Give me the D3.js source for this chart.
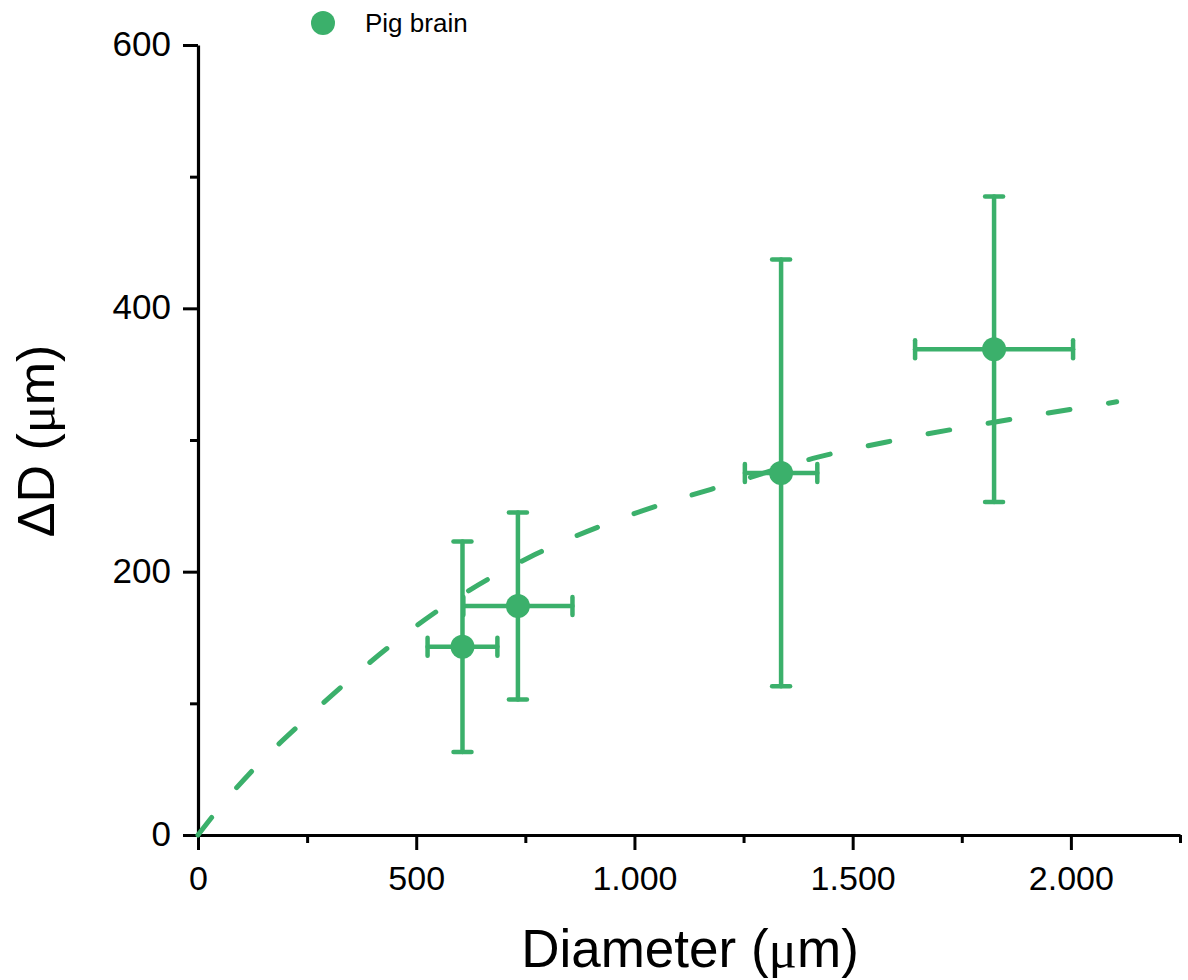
<!DOCTYPE html>
<html>
<head>
<meta charset="utf-8">
<script src="https://cdn.jsdelivr.net/npm/d3@7"></script>
<style>
  body { margin: 0; background: #fff; }
  svg { display: block; font-family: "Liberation Sans", Arial, sans-serif; }
</style>
</head>
<body>
<div id="chart"></div>
<script>
  // measured points (diameter, deltaD) with x and y errors
  const diameter = [606, 733, 1336, 1824];
  const deltaD   = [143, 174, 275, 369];
  const xErr     = [80, 125, 83, 181];
  const yErr     = [80, 71, 162, 116];

  // fitted curve
  const fitX = [0, 50, 142, 240, 337, 438, 539, 772, 837, 982, 1250, 1409, 1600, 1868, 2105];
  const fitY = [0, 21, 55, 86, 115, 143, 168, 213, 223, 242, 270, 286, 300, 316, 329];

  const xTicks = [0, 500, 1000, 1500, 2000];
  const xMinor = [250, 750, 1250, 1750, 2250];
  const yTicks = [0, 200, 400, 600];
  const yMinor = [100, 300, 500];

  const green = "#3bb06b";
  const W = 1188, H = 980;

  const svg = d3.select("#chart").append("svg")
    .attr("width", W)
    .attr("height", H);

  const x = d3.scaleLinear().domain([0, 2250]).range([198, 1180]);
  const y = d3.scaleLinear().domain([0, 600]).range([835, 45]);

  const fmt = d => d3.format(",")(d).replace(/,/g, ".");

  // axes
  const xAxis = svg.append("g").attr("transform", "translate(0,835)")
    .call(d3.axisBottom(x).tickValues(xTicks).tickFormat(fmt).tickSize(15).tickSizeOuter(0));
  svg.append("g").attr("transform", "translate(0,835)")
    .call(d3.axisBottom(x).tickValues(xMinor).tickFormat("").tickSize(8).tickSizeOuter(0))
    .select(".domain").remove();
  const yAxis = svg.append("g").attr("transform", "translate(198,0)")
    .call(d3.axisLeft(y).tickValues(yTicks).tickSize(15).tickSizeOuter(0));
  svg.append("g").attr("transform", "translate(198,0)")
    .call(d3.axisLeft(y).tickValues(yMinor).tickFormat("").tickSize(8).tickSizeOuter(0))
    .select(".domain").remove();

  svg.selectAll(".domain").attr("stroke", "#000").attr("stroke-width", 3.2);
  svg.selectAll(".tick line").attr("stroke", "#000").attr("stroke-width", 3);
  xAxis.selectAll(".tick text")
    .attr("font-size", 34).attr("fill", "#000").attr("dy", 0).attr("y", 55);
  yAxis.selectAll(".tick text")
    .attr("font-size", 35).attr("fill", "#000").attr("x", -27).attr("dy", "0.3em");

  // axis titles
  const xt = svg.append("text")
    .attr("x", 690).attr("y", 967)
    .attr("text-anchor", "middle")
    .attr("font-size", 53);
  xt.append("tspan").text("Diameter (");
  xt.append("tspan").attr("font-family", "Liberation Serif, serif").text("\u03bc");
  xt.append("tspan").text("m)");

  const yt = svg.append("text")
    .attr("transform", "translate(54,441) rotate(-90)")
    .attr("text-anchor", "middle")
    .attr("font-size", 52);
  yt.append("tspan").text("\u0394D (");
  yt.append("tspan").attr("font-family", "Liberation Serif, serif").text("\u03bc");
  yt.append("tspan").text("m)");

  // fit curve
  const fitPts = fitX.map((d, i) => [d, fitY[i]]);
  svg.append("path")
    .datum(fitPts)
    .attr("fill", "none")
    .attr("stroke", green)
    .attr("stroke-width", 5)
    .attr("stroke-linecap", "round")
    .attr("stroke-dasharray", "22,39")
    .attr("d", d3.line().x(d => x(d[0])).y(d => y(d[1])).curve(d3.curveMonotoneX));

  const pts = diameter.map((d, i) => ({x: d, y: deltaD[i], ex: xErr[i], ey: yErr[i]}));
  const cap = 9;

  const bars = svg.append("g")
    .attr("stroke", green)
    .attr("stroke-width", 4.5)
    .attr("stroke-linecap", "round");

  pts.forEach(p => {
    const cx = x(p.x), cy = y(p.y);
    const top = y(p.y + p.ey), bot = y(p.y - p.ey);
    const lft = x(p.x - p.ex), rgt = x(p.x + p.ex);
    bars.append("line").attr("x1", cx).attr("x2", cx).attr("y1", top).attr("y2", bot);
    bars.append("line").attr("x1", cx - cap).attr("x2", cx + cap).attr("y1", top).attr("y2", top);
    bars.append("line").attr("x1", cx - cap).attr("x2", cx + cap).attr("y1", bot).attr("y2", bot);
    bars.append("line").attr("x1", lft).attr("x2", rgt).attr("y1", cy).attr("y2", cy);
    bars.append("line").attr("x1", lft).attr("x2", lft).attr("y1", cy - cap).attr("y2", cy + cap);
    bars.append("line").attr("x1", rgt).attr("x2", rgt).attr("y1", cy - cap).attr("y2", cy + cap);
  });

  svg.append("g").selectAll("circle")
    .data(pts)
    .enter().append("circle")
    .attr("cx", d => x(d.x))
    .attr("cy", d => y(d.y))
    .attr("r", 12)
    .attr("fill", green);

  // legend
  svg.append("circle").attr("cx", 323).attr("cy", 23).attr("r", 12).attr("fill", green);
  svg.append("text").attr("x", 365).attr("y", 32).attr("font-size", 26).text("Pig brain");
</script>
</body>
</html>
